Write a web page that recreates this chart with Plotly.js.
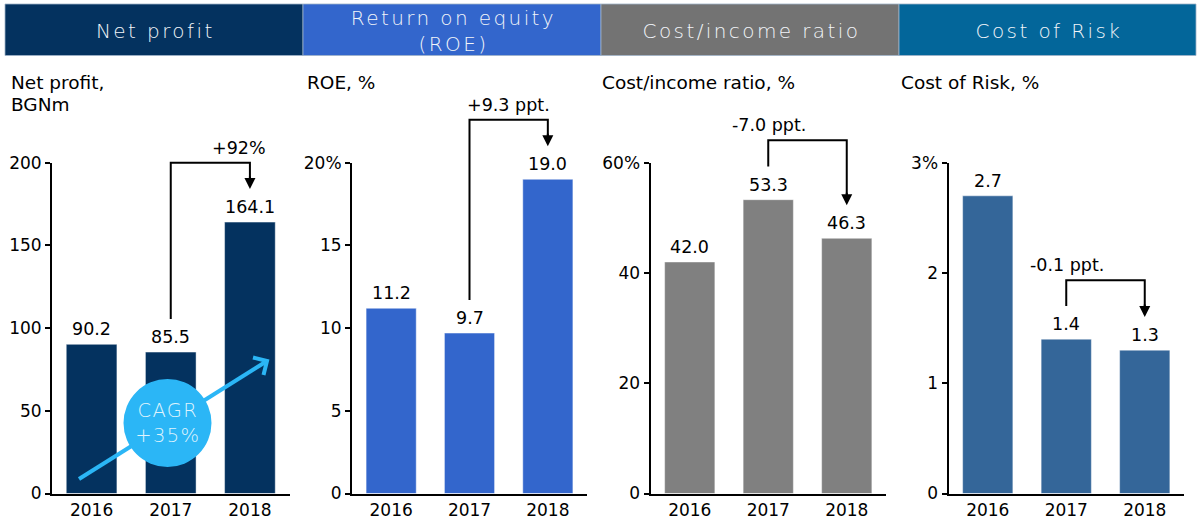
<!DOCTYPE html>
<html><head><meta charset="utf-8">
<script src="https://cdn.plot.ly/plotly-3.0.1.min.js"></script>
<style>
html,body{margin:0;padding:0;background:#fff;}
g.annotation[data-index="0"] text, g.annotation[data-index="1"] text,
g.annotation[data-index="2"] text, g.annotation[data-index="3"] text {letter-spacing:2.4px;}
g.annotation[data-index="4"] text {letter-spacing:1.4px;}
</style>
</head><body>
<div id="chart" style="width:1197px;height:525px"></div>
<script>
// ---- data ----
const years = ['2016', '2017', '2018'];
const netProfit = [90.2, 85.5, 164.1];
const roe = [11.2, 9.7, 19.0];
const costIncome = [42.0, 53.3, 46.3];
const costOfRisk = [2.7, 1.4, 1.3];

const headerTitles = ['Net profit', 'Return on equity<br>(ROE)', 'Cost/income ratio', 'Cost of Risk'];
const subtitles = ['Net profit,<br>BGNm', 'ROE, %', 'Cost/income ratio, %', 'Cost of Risk, %'];
const yTickVals = [[0, 50, 100, 150, 200], [0, 5, 10, 15, 20], [0, 20, 40, 60], [0, 1, 2, 3]];
const yTickText = [['0', '50', '100', '150', '200'], ['0', '5', '10', '15', '20%'], ['0', '20', '40', '60%'], ['0', '1', '2', '3%']];
const yMax = [200, 20, 60, 3];
const changeLabels = ['+92%', '+9.3 ppt.', '-7.0 ppt.', '-0.1 ppt.'];
const cagrLabel = 'CAGR<br>+35%';

const series = [netProfit, roe, costIncome, costOfRisk];

// ---- style / layout ----
const W = 1197, H = 525;
const FONT = 'DejaVu Sans, Verdana, sans-serif';
const barColors = ['#04325f', '#3366cc', '#808080', '#346699'];
const headerColors = ['#04325f', '#3366cc', '#737373', '#03669a'];
const headerPx = [[5, 303], [303, 601], [601, 899], [899, 1196]];
const subtitleX = [9, 305, 600, 899];
const xDomPx = [[52, 289.5], [352, 587], [650.5, 886], [948.5, 1184]];
const yDom = [0.06, 0.69];
const bracketTopFrac = [1.0, 1.13, 1.068, 0.645];
const bracketGapFrac = 0.1;

const px2x = p => p / W;
const px2y = p => 1 - p / H;
const xDom = xDomPx.map(d => [px2x(d[0]), px2x(d[1])]);

function xPaper(i, idx) { return xDom[i][0] + (idx + 0.5) / years.length * (xDom[i][1] - xDom[i][0]); }
function yPaper(i, v) { return yDom[0] + v / yMax[i] * (yDom[1] - yDom[0]); }

const data = [];
const layout = {
  width: W, height: H, autosize: false,
  margin: {l: 0, r: 0, t: 0, b: 0, pad: 0},
  paper_bgcolor: '#fff', plot_bgcolor: 'rgba(0,0,0,0)',
  showlegend: false, bargap: 0.36,
  font: {family: FONT, color: '#000'},
  shapes: [], annotations: []
};

// header annotations first (indices 0-3)
for (let i = 0; i < 4; i++) {
  layout.shapes.push({type: 'rect', xref: 'paper', yref: 'paper', layer: 'below',
    x0: px2x(headerPx[i][0]), x1: px2x(headerPx[i][1]), y0: px2y(55.5), y1: px2y(4),
    fillcolor: headerColors[i], line: {color: '#9fb2c8', width: 0.8}});
  layout.annotations.push({xref: 'paper', yref: 'paper', showarrow: false,
    x: px2x((headerPx[i][0] + headerPx[i][1]) / 2 + 1), y: px2y(31), xanchor: 'center', yanchor: 'middle',
    text: headerTitles[i], font: {family: FONT, size: 20, color: '#f2f5f9', weight: 200}});
}
// CAGR label (index 4)
layout.annotations.push({xref: 'paper', yref: 'paper', showarrow: false,
  x: px2x(168), y: px2y(423), xanchor: 'center', yanchor: 'middle',
  text: cagrLabel, font: {family: FONT, size: 19.5, color: '#dff3fd', weight: 200}});

for (let i = 0; i < 4; i++) {
  const n = i === 0 ? '' : String(i + 1);
  const vals = series[i];
  data.push({type: 'bar', x: years, y: vals, xaxis: 'x' + n, yaxis: 'y' + n,
    marker: {color: barColors[i], line: {color: 'rgba(255,255,255,0.45)', width: 1}},
    hoverinfo: 'skip'});
  layout['xaxis' + n] = {domain: xDom[i], anchor: 'y' + n, type: 'category', range: [-0.5, 2.5],
    showline: true, linecolor: '#000', linewidth: 2, ticks: '', showgrid: false, zeroline: false,
    tickfont: {family: FONT, size: 17, color: '#000'}, fixedrange: true};
  layout['yaxis' + n] = {domain: yDom, anchor: 'x' + n, range: [0, yMax[i]],
    showline: true, linecolor: '#000', linewidth: 2, ticks: 'outside', ticklen: 5, tickwidth: 2,
    tickcolor: '#000', tickvals: yTickVals[i], ticktext: yTickText[i], showgrid: false, zeroline: false,
    tickfont: {family: FONT, size: 17, color: '#000'}, fixedrange: true};

  // value labels
  vals.forEach((v, k) => layout.annotations.push({xref: 'x' + n, yref: 'y' + n, x: k, y: v,
    yanchor: 'bottom', yshift: 3, showarrow: false, text: v.toFixed(1),
    font: {family: FONT, size: 17.5, color: '#000'}}));

  // subtitle (one annotation per line for tight line spacing)
  subtitles[i].split('<br>').forEach((line, li) => layout.annotations.push({
    xref: 'paper', yref: 'paper', x: px2x(subtitleX[i]), xanchor: 'left',
    y: px2y(83 + li * 21.5), yanchor: 'middle', align: 'left', showarrow: false,
    text: line, font: {family: FONT, size: 18.5, color: '#000'}}));

  // change bracket from 2017 to 2018
  const x1 = xPaper(i, 1), x2 = xPaper(i, 2);
  const yb = yPaper(i, vals[1] + bracketGapFrac * yMax[i]);
  const yt = yPaper(i, bracketTopFrac[i] * yMax[i]);
  const ytip = yPaper(i, vals[2] + bracketGapFrac * yMax[i]);
  layout.shapes.push({type: 'path', xref: 'paper', yref: 'paper',
    path: `M ${x1},${yb} L ${x1},${yt} L ${x2},${yt} L ${x2},${ytip + 6 / H}`,
    line: {color: '#000', width: 2}});
  layout.annotations.push({xref: 'paper', yref: 'paper', x: x2, y: ytip, ax: 0, ay: -14,
    text: '', showarrow: true, arrowhead: 2, arrowsize: 1.1, arrowwidth: 2, arrowcolor: '#000', standoff: 0});
  layout.annotations.push({xref: 'paper', yref: 'paper', x: (x1 + x2) / 2, y: yt,
    yanchor: 'bottom', yshift: 3, showarrow: false, text: changeLabels[i],
    font: {family: FONT, size: 17.5, color: '#000'}});
}

// CAGR arrow (behind circle) and circle
const CAGR_BLUE = '#2bb6f6';
const tail = [79, 479], tip = [267, 361];
layout.shapes.push({type: 'line', xref: 'paper', yref: 'paper',
  x0: px2x(tail[0]), y0: px2y(tail[1]), x1: px2x(tip[0] - 2), y1: px2y(tip[1] + 1.3),
  line: {color: CAGR_BLUE, width: 4}});
layout.shapes.push({type: 'path', xref: 'paper', yref: 'paper',
  path: `M ${px2x(253)},${px2y(357.5)} L ${px2x(tip[0])},${px2y(tip[1])} L ${px2x(263.5)},${px2y(375)}`,
  line: {color: CAGR_BLUE, width: 4}});
layout.shapes.push({type: 'circle', xref: 'paper', yref: 'paper',
  x0: px2x(123.5), x1: px2x(211.5), y0: px2y(467), y1: px2y(379),
  fillcolor: CAGR_BLUE, line: {width: 0}});

Plotly.newPlot('chart', data, layout, {displayModeBar: false, staticPlot: true});
</script>
</body></html>
